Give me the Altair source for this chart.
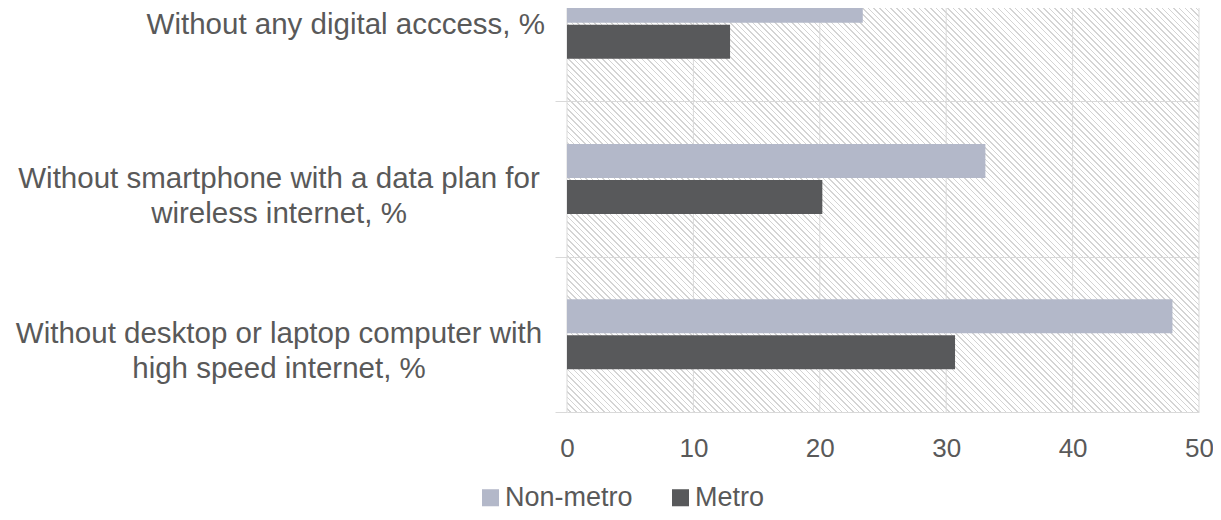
import math
import altair as alt
import pandas as pd

# ---- data ----
categories = [
    "Without any digital acccess, %",
    "Without smartphone with a data plan for\nwireless internet, %",
    "Without desktop or laptop computer with\nhigh speed internet, %",
]
series = ["Non-metro", "Metro"]
non_metro = [23.4, 33.1, 47.9]
metro = [12.9, 20.2, 30.7]
x_ticks = [0, 10, 20, 30, 40, 50]
series_colors = ["#b3b8c9", "#58595b"]

rows = []
for c, nm, m in zip(categories, non_metro, metro):
    rows.append({"category": c, "series": series[0], "value": nm})
    rows.append({"category": c, "series": series[1], "value": m})
bars_df = pd.DataFrame(rows)
labels_df = pd.DataFrame({"category": categories})
ticks_df = pd.DataFrame({"tick": x_ticks})
bg_df = pd.DataFrame({"start": [x_ticks[0]], "end": [x_ticks[-1]]})

W, H = 632, 412
LEFT = 559
Y_TOP = -54
STEP = (H - Y_TOP) / len(categories)
GROUP = 70
FONT = "Liberation Sans"
TEXT = "#595959"
GRID = "#d9d9d9"


def hatch_fill(w, h, spacing=4.0, lw=1.1, line="#d4d4d4", bg="#ffffff"):
    """Diagonal '\\' hatch emulated with a hard-stop linear gradient."""
    r = h / w
    s = (1 + r) / (1 + r * r)
    L = (w + h) / math.sqrt(2)
    stops = [{"offset": 0, "color": bg}]
    pos = spacing / 2
    while pos + lw < L:
        a = round(pos / L, 6)
        b = round((pos + lw) / L, 6)
        stops += [
            {"offset": a, "color": bg},
            {"offset": a, "color": line},
            {"offset": b, "color": line},
            {"offset": b, "color": bg},
        ]
        pos += spacing
    stops.append({"offset": 1, "color": bg})
    return {"gradient": "linear", "x1": 0, "y1": 1, "x2": s, "y2": 1 - r * s, "stops": stops}


x_scale = alt.Scale(domain=[x_ticks[0], x_ticks[-1]], nice=False)
y_scale = alt.Scale(domain=categories, range=[Y_TOP, H], paddingInner=0, paddingOuter=0)

hatch = alt.Chart(bg_df).mark_rect(fill=hatch_fill(W, H), strokeWidth=0).encode(
    x=alt.X("start:Q", scale=x_scale),
    x2="end:Q",
)

grid = alt.Chart(ticks_df).mark_rule(color=GRID, strokeWidth=1).encode(
    x=alt.X("tick:Q", scale=x_scale)
)

bars = alt.Chart(bars_df).mark_bar(strokeWidth=0).encode(
    x=alt.X(
        "value:Q",
        scale=x_scale,
        title=None,
        axis=alt.Axis(
            values=x_ticks, grid=False, ticks=False, domain=False, labelFlush=False,
            labelFontSize=26, labelColor=TEXT, labelFont=FONT, labelPadding=23,
        ),
    ),
    y=alt.Y(
        "category:N",
        sort=categories,
        scale=y_scale,
        title=None,
        axis=alt.Axis(
            labels=False, domain=False, ticks=True, tickBand="extent", tickSize=12,
            tickColor=GRID, grid=True, gridColor=GRID, zindex=1,
        ),
    ),
    yOffset=alt.YOffset(
        "series:N", sort=series,
        scale=alt.Scale(
            domain=series, paddingInner=0.0556, paddingOuter=0,
            range=[(STEP - GROUP) / 2, (STEP + GROUP) / 2],
        ),
    ),
    color=alt.Color(
        "series:N",
        scale=alt.Scale(domain=series, range=series_colors),
        legend=alt.Legend(
            title=None, orient="none", direction="horizontal",
            legendX=-90, legendY=484, padding=0,
            symbolType="square", symbolSize=290, symbolStrokeWidth=0,
            labelFontSize=27, labelFont=FONT, labelColor=TEXT,
            labelOffset=1, columnPadding=34,
        ),
    ),
)

label_single = alt.Chart(labels_df).transform_filter(
    alt.FieldOneOfPredicate(field="category", oneOf=categories[:1])
).mark_text(
    align="right", baseline="middle", fontSize=29.5, font=FONT, color=TEXT, dy=1
).encode(
    y=alt.Y("category:N", sort=categories, scale=y_scale, title=None),
    text="category:N",
    x=alt.value(545 - 8 - LEFT),
)

label_multi = alt.Chart(labels_df).transform_filter(
    alt.FieldOneOfPredicate(field="category", oneOf=categories[1:])
).mark_text(
    align="center", baseline="middle", fontSize=29.5, font=FONT, color=TEXT, lineBreak="\n", lineHeight=35
).encode(
    y=alt.Y("category:N", sort=categories, scale=y_scale, title=None),
    text="category:N",
    x=alt.value(279 - 8 - LEFT),
)

chart = alt.layer(hatch, grid, bars, label_single, label_multi).properties(
    width=W,
    height=H,
    autosize=alt.AutoSizeParams(type="none"),
    padding={"left": LEFT, "top": -8, "right": 1205 - LEFT - W, "bottom": 100},
    background="#ffffff",
).configure_view(stroke=None)

chart.save("out.html", embed_options={"renderer": "svg", "actions": False})
